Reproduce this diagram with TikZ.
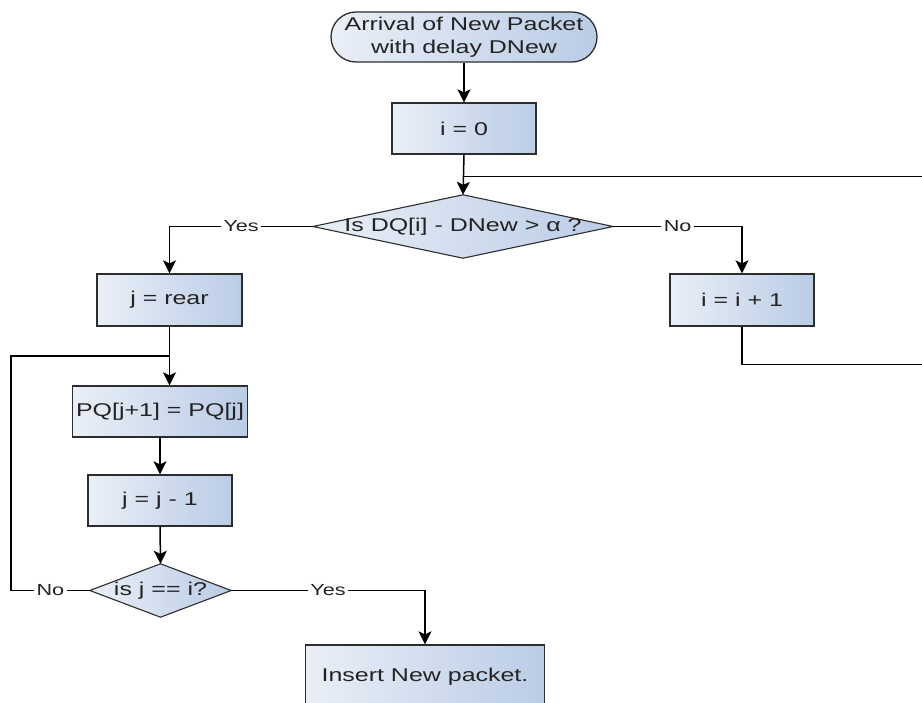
\documentclass[tikz,border=0pt]{standalone}
\usepackage{fontspec}
\setmainfont{Liberation Sans}[FakeStretch=1.35]
\usetikzlibrary{arrows.meta,backgrounds}
\definecolor{boxL}{RGB}{234,239,247}
\definecolor{boxR}{RGB}{186,204,230}
\definecolor{edgec}{RGB}{45,45,45}
\definecolor{txtc}{RGB}{35,35,35}
\begin{document}
\begin{tikzpicture}[x=1pt,y=-1pt,
  proc/.style={draw=edgec, line width=1.3pt, left color=boxL, right color=boxR,
    text=txtc, font=\fontsize{18.5}{22.5}\selectfont, inner sep=0pt,
    minimum width=144pt, minimum height=51pt},
  term/.style={proc, rounded corners=25pt, align=center},
  hid/.style={inner sep=0pt, text=txtc, font=\fontsize{18.5}{22.5}\selectfont},
  diashade/.style={draw=edgec, line width=1.1pt, left color=boxL, right color=boxR},
  conn/.style={draw=black, line width=1.5pt},
  arr/.style={conn, -{Stealth[length=13pt,width=13pt,inset=3pt]}},
  lab/.style={fill=white, inner sep=2.5pt, text=txtc, font=\fontsize{16}{18}\selectfont}]
\useasboundingbox (0,0) rectangle (922,703);

% nodes
\node[term, minimum width=266pt, minimum height=50pt] (st) at (464,37)
  {Arrival of New Packet\\with delay DNew};
\node[proc] (b0) at (464,128.5) {i = 0};
\node[hid, minimum width=300pt, minimum height=63pt] (d1) at (463,226.5)
  {Is DQ[i] - DNew > α ?};
\node[proc, minimum width=145pt, minimum height=52pt] (jr) at (169.5,300) {j = rear};
\node[proc, minimum height=52pt] (i1) at (742,300) {i = i + 1};
\node[proc, minimum width=175pt] (pq) at (160,411.5) {PQ[j+1] = PQ[j]};
\node[proc] (jj) at (160,500.5) {j = j - 1};
\node[hid, minimum width=141pt, minimum height=53pt] (d2) at (160.5,590.5)
  {is j == i?};
\node[proc, minimum width=239pt, minimum height=64pt] (ins) at (425,677)
  {Insert New packet.};

\begin{scope}[on background layer]
  \path[diashade] (d1.north) -- (d1.east) -- (d1.south) -- (d1.west) -- cycle;
  \path[diashade] (d2.north) -- (d2.east) -- (d2.south) -- (d2.west) -- cycle;
\end{scope}

% free ends and bends
\coordinate (rt) at (922,176.5);
\coordinate (rb) at (922,364.5);
\coordinate (lb) at (11,590.5);
\coordinate (lt) at (11,356);

% connectors
\draw[arr] (st.south) -- (b0.north);
\draw[arr] (b0.south) -- (d1.north);
\draw[conn] (rt) -- (b0.south |- rt);
\draw[arr] (d1.west) -| node[lab, pos=0.25] {Yes} (jr.north);
\draw[arr] (d1.east) -| node[lab, pos=0.25] {No} (i1.north);
\draw[conn] (i1.south) |- (rb);
\draw[arr] (jr.south) -- (jr.south |- pq.north);
\draw[arr] (pq.south) -- (jj.north);
\draw[arr] (jj.south) -- (d2.north);
\draw[conn] (d2.west) -- node[lab] {No} (lb) -- (lt) -- (jr.south |- lt);
\draw[arr] (d2.east) -| node[lab, pos=0.25] {Yes} (ins.north);
\end{tikzpicture}
\end{document}
